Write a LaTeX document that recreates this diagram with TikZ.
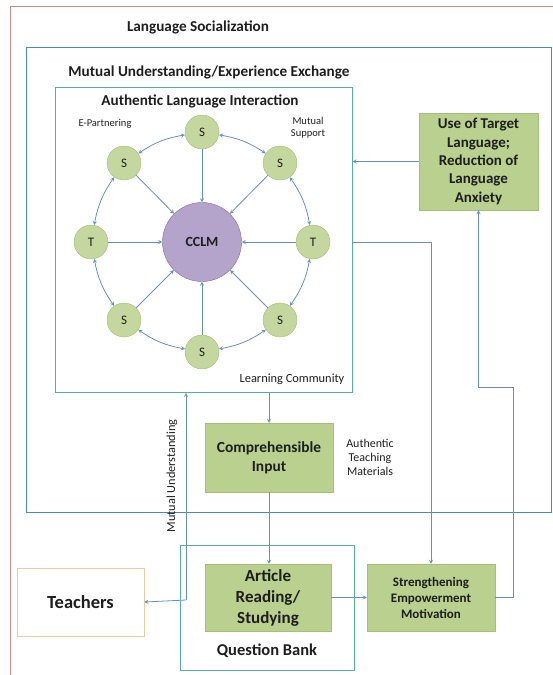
\documentclass[tikz,border=0pt]{standalone}
\usepackage{fontspec}
\setmainfont{Carlito}
\usepackage{tikz}
\usetikzlibrary{arrows,calc,positioning,shapes}
\definecolor{linkblue}{RGB}{104,142,196}
\definecolor{ringfill}{RGB}{196,215,158}
\definecolor{ringline}{RGB}{160,190,105}
\definecolor{boxfill}{RGB}{186,208,142}
\definecolor{boxline}{RGB}{165,192,118}
\definecolor{hubfill}{RGB}{180,163,202}
\definecolor{hubline}{RGB}{130,104,165}
\definecolor{tealframe}{RGB}{88,174,158}
\definecolor{blueframe}{RGB}{72,140,176}
\definecolor{redframe}{RGB}{200,140,140}
\definecolor{tanframe}{RGB}{232,205,160}
\definecolor{inktext}{RGB}{30,30,30}
\tikzset{%
	member/.style  = {draw=ringline, fill=ringfill, circle, minimum size=34pt, inner sep=0pt, font=\fontsize{13}{14}\selectfont},
	hub/.style     = {draw=hubline, fill=hubfill, circle, minimum size=79pt, inner sep=0pt, font=\bfseries\fontsize{14}{15}\selectfont},
	process/.style = {draw=boxline, fill=boxfill, rectangle, inner sep=2pt, text centered, font=\bfseries},
	frame/.style   = {draw, rectangle, line width=0.8pt},
	title/.style   = {font=\bfseries\fontsize{15.2}{17}\selectfont},
	note/.style    = {align=center, font=\fontsize{10.5}{12}\selectfont},
	arrow/.style   = {draw=linkblue, line width=0.8pt, -stealth},
	twoway/.style  = {draw=linkblue, line width=0.8pt, stealth-stealth},
}
\begin{document}
\begin{tikzpicture}[x=1pt,y=-1pt,text=inktext]
		\useasboundingbox (0,0) rectangle (553,675);
		% nested frames
		\draw[redframe, line width=0.8pt] (10,6) rectangle (600,720);
		\draw[frame, blueframe] (26,47) rectangle (551,512);
		\node[frame, tealframe, minimum width=297pt, minimum height=305pt] (lang) at (203.5,240) {};
		\node[frame, tealframe, minimum width=174pt, minimum height=125pt] (bank) at (267,607.5) {};
		\node[title] at (198,27) {Language Socialization};
		\node[title] at (209,72) {Mutual Understanding/Experience Exchange};
		\node[title] at (200,101) {Authentic Language Interaction};
		% ring of members round the hub
		\node[hub] (cclm) at (202,242) {CCLM};
		\node[member] (sn) at (202,132) {S};
		\node[member] (sne) at (280,163) {S};
		\node[member] (te) at (313,242) {T};
		\node[member] (sse) at (280,320) {S};
		\node[member] (ss) at (202,352) {S};
		\node[member] (ssw) at (124,320) {S};
		\node[member] (tw) at (91,242) {T};
		\node[member] (snw) at (124,163) {S};
		\draw[arrow] (sn) -- (cclm);
		\draw[arrow] (sne) -- (cclm);
		\draw[arrow] (te) -- (cclm);
		\draw[arrow] (sse) -- (cclm);
		\draw[arrow] (ss) -- (cclm);
		\draw[arrow] (ssw) -- (cclm);
		\draw[arrow] (tw) -- (cclm);
		\draw[arrow] (snw) -- (cclm);
		\draw[twoway] (sn) to[bend left=12] (sne);
		\draw[twoway] (sne) to[bend left=12] (te);
		\draw[twoway] (te) to[bend left=12] (sse);
		\draw[twoway] (sse) to[bend left=12] (ss);
		\draw[twoway] (ss) to[bend left=12] (ssw);
		\draw[twoway] (ssw) to[bend left=12] (tw);
		\draw[twoway] (tw) to[bend left=12] (snw);
		\draw[twoway] (snw) to[bend left=12] (sn);
		\node[note] at (105,124) {E-Partnering};
		\node[note] at (308,128) {Mutual\\Support};
		\node[note, font=\fontsize{12.4}{14}\selectfont] at (292,379) {Learning Community};
		% boxes outside the ring
		\node[process, minimum width=119pt, minimum height=97pt, align=center, font=\bfseries\fontsize{15}{18.3}\selectfont] (target) at (478.5,161.5) {Use of Target\\Language;\\Reduction of\\Language\\Anxiety};
		\node[process, minimum width=128pt, minimum height=69pt, align=center, font=\bfseries\fontsize{15.4}{19}\selectfont] (input) at (269,457.5) {Comprehensible\\Input};
		\node[note, font=\fontsize{12}{14}\selectfont] at (370,457) {Authentic\\Teaching\\Materials};
		\node[process, minimum width=126pt, minimum height=67pt, align=center, font=\bfseries\fontsize{17}{21}\selectfont] (article) at (268,597.5) {Article\\Reading/\\Studying};
		\node[process, minimum width=128pt, minimum height=67pt, align=center, font=\bfseries\fontsize{13}{16}\selectfont] (strength) at (431,597.5) {Strengthening\\Empowerment\\Motivation};
		\node[title, font=\bfseries\fontsize{16.5}{18}\selectfont] at (267,651) {Question Bank};
		\node[frame, draw=tanframe, line width=0.6pt, minimum width=127pt, minimum height=68pt, font=\bfseries\fontsize{18.5}{20}\selectfont] (teach) at (80.5,602) {Teachers};
		% connectors
		\draw[arrow] (target.west) -- (target.west -| lang.east);
		\draw[arrow] (lang.south -| input.north) -- (input.north);
		\draw[arrow] (input.south) -- (input.south |- article.north);
		\draw[arrow] (article.east) -- (strength.west);
		\draw[arrow] (lang.east |- te) -| (strength.north);
		\coordinate (back) at (513,387);
		\draw[arrow] (strength.east) -| (back) -| (target.south);
		\coordinate (join) at (186,600);
		\draw[arrow] (join) -- (join |- lang.south);
		\draw[arrow] (join) -- (teach.east);
		\node[note, rotate=90, font=\fontsize{12.3}{14}\selectfont] at (172,476) {Mutual Understanding};
		\end{tikzpicture}
\end{document}
